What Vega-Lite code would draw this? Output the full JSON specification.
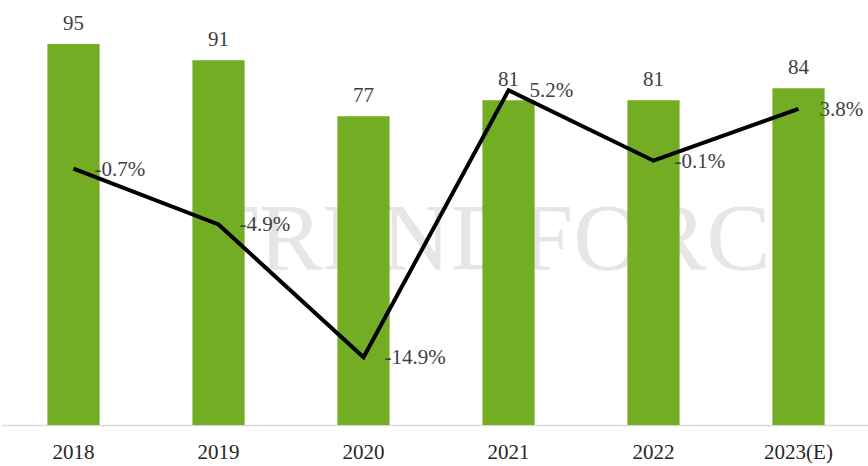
{
  "$schema": "https://vega.github.io/schema/vega-lite/v6.json",
  "width": 870,
  "height": 425,
  "autosize": {"type": "none"},
  "padding": {"left": 1, "top": 0, "right": 0, "bottom": 41},
  "background": "white",
  "config": {
    "view": {"stroke": null},
    "font": "Liberation Serif",
    "text": {"font": "Liberation Serif"},
    "axisX": {
      "title": null,
      "labelAngle": 0,
      "labelFont": "Liberation Serif",
      "labelFontSize": 21,
      "labelColor": "#262626",
      "labelPadding": 16,
      "ticks": false,
      "domainColor": "#d9d9d9",
      "domainWidth": 1.5,
      "grid": false
    }
  },
  "data": {
    "values": [
      {"year": "2018", "shipments": 95, "growth": -0.7, "label": "-0.7%"},
      {"year": "2019", "shipments": 91, "growth": -4.9, "label": "-4.9%"},
      {"year": "2020", "shipments": 77, "growth": -14.9, "label": "-14.9%"},
      {"year": "2021", "shipments": 81, "growth": 5.2, "label": "5.2%"},
      {"year": "2022", "shipments": 81, "growth": -0.1, "label": "-0.1%"},
      {"year": "2023(E)", "shipments": 84, "growth": 3.8, "label": "3.8%"}
    ]
  },
  "layer": [
    {
      "data": {"values": [{"wm": "TRENDFORCE"}]},
      "mark": {"type": "text", "font": "Liberation Serif", "fontSize": 96, "color": "#e6e6e6", "baseline": "middle", "align": "center", "dx": 6},
      "encoding": {
        "x": {"datum": "2021", "type": "nominal", "scale": {"domain": ["2018", "2019", "2020", "2021", "2022", "2023(E)"], "paddingInner": 0.64, "paddingOuter": 0.32}, "title": null},
        "y": {"datum": 46, "type": "quantitative", "scale": {"domain": [0, 106]}, "axis": null},
        "text": {"field": "wm"}
      }
    },
    {
      "mark": {"type": "bar", "color": "#72ad24"},
      "encoding": {
        "x": {"field": "year", "type": "nominal", "scale": {"domain": ["2018", "2019", "2020", "2021", "2022", "2023(E)"], "paddingInner": 0.64, "paddingOuter": 0.32}, "title": null},
        "y": {"field": "shipments", "type": "quantitative", "scale": {"domain": [0, 106]}, "axis": null}
      }
    },
    {
      "mark": {"type": "text", "font": "Liberation Serif", "fontSize": 21, "color": "#404040", "baseline": "alphabetic", "dy": -14},
      "encoding": {
        "x": {"field": "year", "type": "nominal", "scale": {"domain": ["2018", "2019", "2020", "2021", "2022", "2023(E)"], "paddingInner": 0.64, "paddingOuter": 0.32}, "title": null},
        "y": {"field": "shipments", "type": "quantitative", "scale": {"domain": [0, 106]}, "axis": null},
        "text": {"field": "shipments", "type": "quantitative"}
      }
    },
    {
      "mark": {"type": "line", "color": "#000000", "strokeWidth": 4, "strokeJoin": "miter"},
      "encoding": {
        "x": {"field": "year", "type": "nominal", "scale": {"domain": ["2018", "2019", "2020", "2021", "2022", "2023(E)"], "paddingInner": 0.64, "paddingOuter": 0.32}, "title": null},
        "y": {"field": "growth", "type": "quantitative", "scale": {"domain": [-20, 12], "zero": false}, "axis": null}
      }
    },
    {
      "mark": {"type": "text", "font": "Liberation Serif", "fontSize": 21, "color": "#404040", "align": "left", "baseline": "middle", "dx": 21, "dy": 1},
      "encoding": {
        "x": {"field": "year", "type": "nominal", "scale": {"domain": ["2018", "2019", "2020", "2021", "2022", "2023(E)"], "paddingInner": 0.64, "paddingOuter": 0.32}, "title": null},
        "y": {"field": "growth", "type": "quantitative", "scale": {"domain": [-20, 12], "zero": false}, "axis": null},
        "text": {"field": "label"}
      }
    }
  ],
  "resolve": {"scale": {"y": "independent"}}
}
